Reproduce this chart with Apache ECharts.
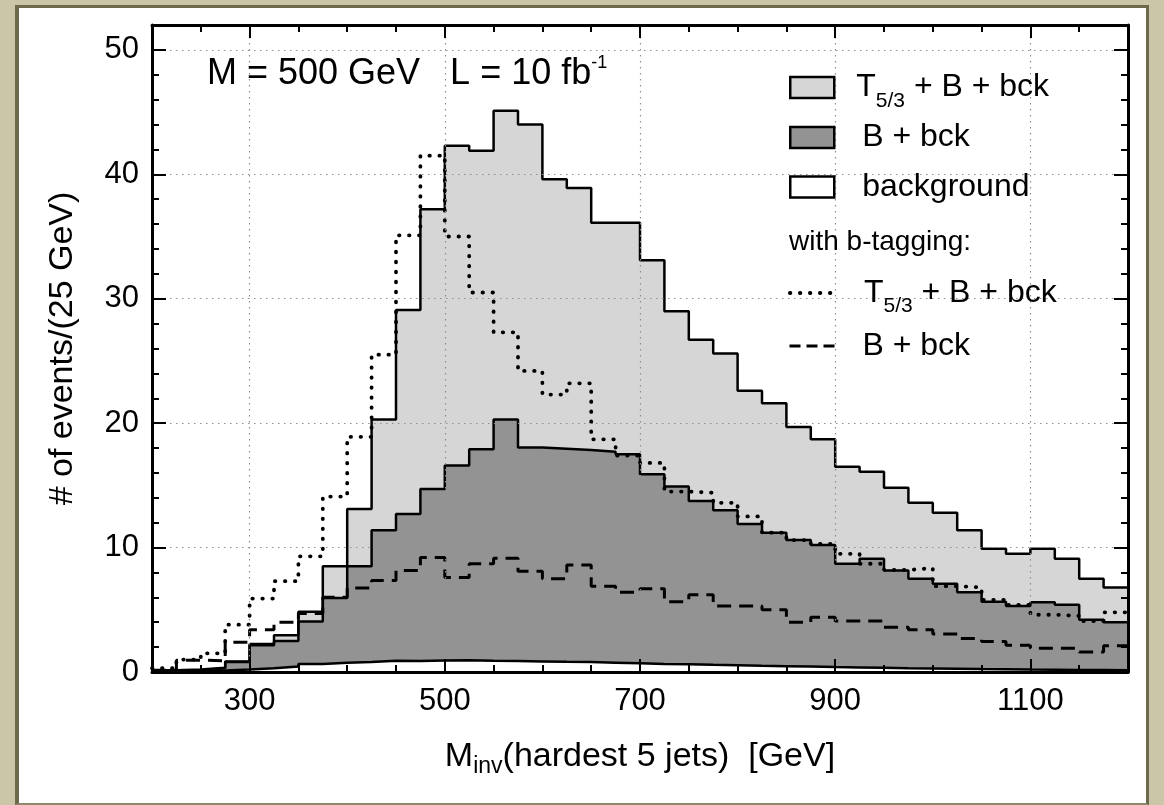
<!DOCTYPE html>
<html>
<head>
<meta charset="utf-8">
<script src="https://cdn.jsdelivr.net/npm/echarts@6/dist/echarts.min.js"></script>
<style>
html,body{margin:0;padding:0;width:1164px;height:805px;overflow:hidden;background:#cac6a7;}
#panel{position:absolute;left:15px;top:5px;width:1127px;height:795px;background:#fff;
  border-left:4px solid #6c694d;border-top:3px solid #6c694d;border-right:3px solid #6c694d;border-bottom:2px solid #8d8a6c;}
#chart{position:absolute;left:0;top:0;width:1164px;height:805px;}
</style>
</head>
<body>
<div id="panel"></div>
<div id="chart"></div>
<script>
const FONT = '"Liberation Sans", Arial, Helvetica, sans-serif';

// bin edges, GeV (40 bins of 25 GeV)
const binEdges = [200,225,250,275,300,325,350,375,400,425,450,475,500,525,550,575,600,625,650,675,
  700,725,750,775,800,825,850,875,900,925,950,975,1000,1025,1050,1075,1100,1125,1150,1175,1200];

// T5/3 + B + bck (light grey)
const sigBkg = [0.15,0.2,0.35,0.85,2.25,2.95,4.85,8.5,13.1,20.3,29.1,37.2,42.3,41.9,45.1,44.0,39.6,38.9,36.1,36.1,
  33.1,29.0,26.7,25.6,22.6,21.6,19.7,18.7,16.5,16.1,14.8,13.6,12.8,11.4,9.9,9.5,9.9,9.1,7.5,6.8];
// B + bck (dark grey)
const bBkg = [0.1,0.15,0.3,0.8,2.15,2.5,4.05,5.95,8.5,11.4,12.7,14.7,16.6,17.9,20.3,18.05,17.95,17.85,17.7,17.5,
  15.9,14.9,13.75,13.0,11.9,11.2,10.6,10.2,8.7,9.1,8.15,7.5,7.1,6.4,5.65,5.3,5.6,5.4,4.2,4.0];
// background (white)
const bkg = [0.05,0.08,0.12,0.2,0.3,0.45,0.65,0.75,0.8,0.9,0.88,0.92,0.95,0.9,0.88,0.85,0.82,0.8,0.75,0.7,
  0.65,0.62,0.58,0.55,0.5,0.47,0.44,0.4,0.37,0.34,0.31,0.29,0.27,0.24,0.22,0.2,0.19,0.17,0.16,0.15];
// with b-tagging: T5/3 + B + bck (dotted)
const sigBkgTag = [0.3,1.0,1.5,3.8,5.9,7.3,9.3,14.1,18.9,25.5,35.1,41.5,35.0,30.5,27.3,24.2,22.3,23.2,18.7,17.4,
  16.8,14.5,14.4,13.6,12.5,11.2,10.6,10.3,9.5,8.7,8.2,8.35,6.9,6.8,5.8,5.4,4.6,4.5,4.1,4.8];
// with b-tagging: B + bck (dashed)
const bBkgTag = [0.15,0.95,0.9,2.4,3.4,4.0,4.7,6.0,6.75,7.35,8.15,9.2,7.6,8.7,9.15,8.1,7.5,8.6,6.9,6.4,
  6.7,5.65,6.2,5.3,5.3,5.0,4.0,4.4,4.1,4.1,3.6,3.4,3.05,2.7,2.45,2.15,1.9,1.9,1.6,2.1];

const xMajorTicks = [300,500,700,900,1100];
const yMajorTicks = [0,10,20,30,40,50];

function histPoints(vals) {
  const pts = [];
  for (let i = 0; i < vals.length; i++) pts.push([binEdges[i], vals[i]]);
  pts.push([binEdges[vals.length], vals[vals.length - 1]]);
  return pts;
}

const LIGHT = '#d6d6d6', DARK = '#939393';
const BLACK = '#000';
const DOTTED = {color:BLACK, width:3.8, type:[0.5, 9.5], cap:'round'};
const DASHED = {color:BLACK, width:3, type:[14, 8], cap:'butt'};

const xBase = {type:'value', min:200, max:1200, gridIndex:0};
const yBase = {type:'value', min:0, max:52, gridIndex:0};
const frameLine = {show:true, onZero:false, lineStyle:{color:BLACK, width:3}};
const noLine = {show:false, onZero:false};
const majTick = (vals, len) => ({show:true, inside:true, length:len, customValues:vals, lineStyle:{color:BLACK, width:2}});
const minTick = (len) => ({show:true, inside:true, length:len, lineStyle:{color:BLACK, width:2}});
const noLabel = {show:false};
const noSplit = {show:false};
const gridColor = '#8f8f8f';

const rich = {
  n: {fontSize:32, fontFamily:FONT, color:BLACK, fontWeight:'normal', lineHeight:48, verticalAlign:'middle'},
  sub: {fontSize:21, fontFamily:FONT, color:BLACK, fontWeight:'normal', lineHeight:21, verticalAlign:'bottom'},
  g1: {width:17, lineHeight:48},
  g2: {width:23, lineHeight:48},
  g4: {width:22, lineHeight:48},
  g5: {width:21, lineHeight:48}
};
const legendText = {
  'sig': '{g1|\u00a0}{n|T}{sub|5/3}{n| + B + bck}',
  'bb': '{g2|\u00a0}{n|B + bck}',
  'bkg': '{g2|\u00a0}{n|background}',
  'sigTag': '{g4|\u00a0}{n|T}{sub|5/3}{n| + B + bck}',
  'bbTag': '{g5|\u00a0}{n|B + bck}'
};
function mkLegend(name, left, centerY, extra) {
  return Object.assign({
    left: left, top: centerY - 15, padding: 0, orient:'vertical', selectedMode:false,
    itemWidth:44, itemHeight:21,
    formatter: n => legendText[n],
    textStyle: {rich: rich, fontFamily:FONT, color:BLACK},
    data: [name]
  }, extra || {});
}
const hiddenSymbol = {color:'rgba(0,0,0,0)', borderColor:'rgba(0,0,0,0)', borderWidth:0, opacity:0};

const option = {
  animation: false,
  grid: {left:152, right:36, top:25, bottom:133, containLabel:false, outerBoundsMode:'none'},
  title: [
    {left:207, top:54, padding:0,
     text:'{a|M = 500 GeV   L = 10 fb}{sup|-1}',
     textStyle:{fontWeight:'normal', rich:{
       a:{fontSize:36, fontFamily:FONT, color:BLACK, fontWeight:'normal', lineHeight:40, verticalAlign:'middle'},
       sup:{fontSize:18, fontFamily:FONT, color:BLACK, fontWeight:'normal', lineHeight:30, verticalAlign:'top'}}}},
    {left:789, top:227, padding:0, text:'with b-tagging:',
     textStyle:{fontSize:28, fontFamily:FONT, color:BLACK, fontWeight:'normal', lineHeight:30}}
  ],
  legend: [
    mkLegend('sig', 789, 86.5, {data:[{name:'sig', icon:'rect', itemStyle:{color:LIGHT, borderColor:BLACK, borderWidth:2.5}}]}),
    mkLegend('bb', 789, 136.5, {data:[{name:'bb', icon:'rect', itemStyle:{color:DARK, borderColor:BLACK, borderWidth:2.5}}]}),
    mkLegend('bkg', 789, 186, {data:[{name:'bkg', icon:'rect', itemStyle:{color:'#fff', borderColor:BLACK, borderWidth:2.5}}]}),
    mkLegend('sigTag', 788, 292, {itemWidth:47, itemHeight:14, lineStyle:DOTTED, itemStyle:hiddenSymbol}),
    mkLegend('bbTag', 788, 345, {itemWidth:47, itemHeight:14, lineStyle:{color:BLACK, width:3, type:[11, 6], cap:'butt'}, itemStyle:hiddenSymbol})
  ],
  xAxis: [
    Object.assign({}, xBase, {position:'bottom', z:3, axisLine:frameLine, axisTick:majTick(xMajorTicks, 13),
      axisLabel:{customValues:xMajorTicks, fontSize:31, fontFamily:FONT, color:BLACK, margin:14, formatter: v => String(v)},
      splitLine:noSplit,
      name:'{n|M}{s|inv}{n|(hardest 5 jets)  [GeV]}', nameLocation:'middle', nameGap:64,
      nameTextStyle:{rich:{
        n:{fontSize:34, fontFamily:FONT, color:BLACK, lineHeight:42, verticalAlign:'middle'},
        s:{fontSize:23, fontFamily:FONT, color:BLACK, lineHeight:23, verticalAlign:'bottom'}}}}),
    Object.assign({}, xBase, {position:'bottom', z:3, interval:50, axisLine:noLine, axisTick:minTick(7), axisLabel:noLabel, splitLine:noSplit}),
    Object.assign({}, xBase, {position:'top', z:3, axisLine:frameLine, axisTick:majTick(xMajorTicks, 13), axisLabel:noLabel, splitLine:noSplit}),
    Object.assign({}, xBase, {position:'top', z:3, interval:50, axisLine:noLine, axisTick:minTick(7), axisLabel:noLabel, splitLine:noSplit}),
    Object.assign({}, xBase, {position:'bottom', z:2, interval:100, axisLine:noLine, axisTick:{show:false}, axisLabel:noLabel,
      splitLine:{show:true, lineStyle:{color:['rgba(0,0,0,0)', gridColor], width:1.2, type:[1.5, 4.5]}}})
  ],
  yAxis: [
    Object.assign({}, yBase, {position:'left', z:3, axisLine:frameLine, axisTick:majTick(yMajorTicks, 14),
      axisLabel:{customValues:yMajorTicks, fontSize:31, fontFamily:FONT, color:BLACK, margin:13, formatter: v => String(v)},
      splitLine:noSplit,
      name:'# of events/(25 GeV)', nameLocation:'middle', nameRotate:90, nameGap:71,
      nameTextStyle:{fontSize:34, fontFamily:FONT, color:BLACK, lineHeight:36}}),
    Object.assign({}, yBase, {position:'left', z:3, interval:2, axisLine:noLine, axisTick:minTick(7), axisLabel:noLabel, splitLine:noSplit}),
    Object.assign({}, yBase, {position:'right', z:3, axisLine:frameLine, axisTick:majTick(yMajorTicks, 14), axisLabel:noLabel, splitLine:noSplit}),
    Object.assign({}, yBase, {position:'right', z:3, interval:2, axisLine:noLine, axisTick:minTick(7), axisLabel:noLabel, splitLine:noSplit}),
    Object.assign({}, yBase, {position:'left', z:2, interval:10, axisLine:noLine, axisTick:{show:false}, axisLabel:noLabel,
      splitLine:{show:true, lineStyle:{color:gridColor, width:1.2, type:[1.5, 4.5]}}})
  ],
  series: [
    {name:'sig', type:'line', step:'end', data:histPoints(sigBkg), symbol:'none', z:1, silent:true,
     lineStyle:{color:BLACK, width:2.5}, areaStyle:{color:LIGHT, opacity:1, origin:'start'}, itemStyle:{color:LIGHT}},
    {name:'bb', type:'line', step:'end', data:histPoints(bBkg), symbol:'none', z:1, silent:true,
     lineStyle:{color:BLACK, width:2.5}, areaStyle:{color:DARK, opacity:1, origin:'start'}, itemStyle:{color:DARK}},
    {name:'bkg', type:'line', step:'end', data:histPoints(bkg), symbol:'none', z:1, silent:true,
     lineStyle:{color:BLACK, width:2.5}, areaStyle:{color:'#ffffff', opacity:1, origin:'start'}, itemStyle:{color:'#ffffff'}},
    {name:'sigTag', type:'line', step:'end', data:histPoints(sigBkgTag), symbol:'none', z:1, silent:true,
     lineStyle:DOTTED, itemStyle:{color:BLACK}},
    {name:'bbTag', type:'line', step:'end', data:histPoints(bBkgTag), symbol:'none', z:1, silent:true,
     lineStyle:DASHED, itemStyle:{color:BLACK}}
  ]
};

const chart = echarts.init(document.getElementById('chart'), null, {renderer:'canvas'});
chart.setOption(option);
</script>
</body>
</html>
